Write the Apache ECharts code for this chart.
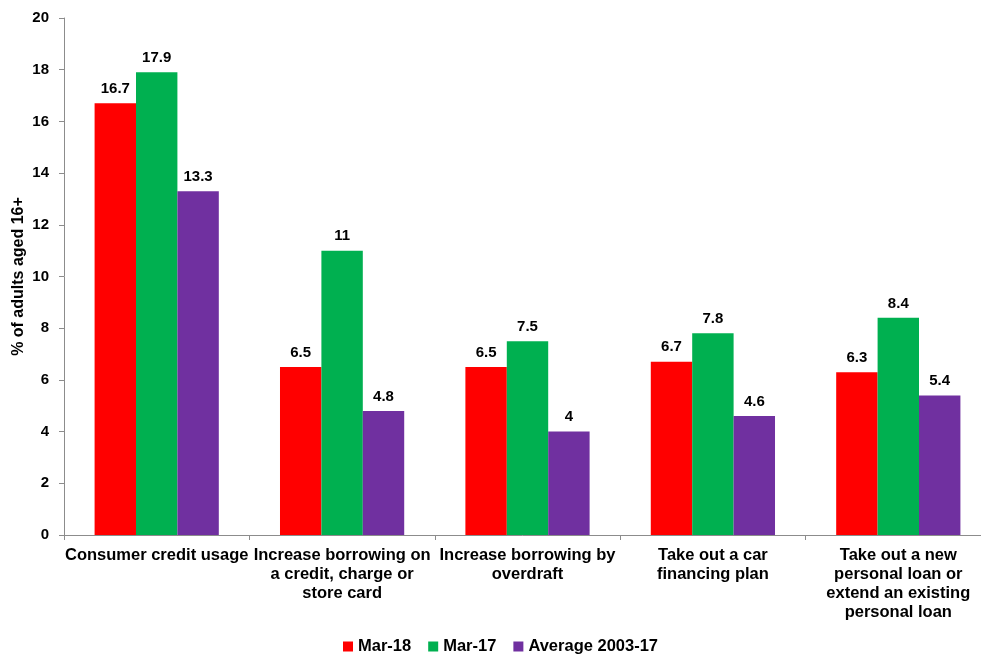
<!DOCTYPE html>
<html>
<head>
<meta charset="utf-8">
<script src="https://cdn.jsdelivr.net/npm/echarts@6/dist/echarts.min.js"></script>
<style>
  html, body { margin: 0; padding: 0; background: #fff; }
  #chart { width: 981px; height: 655px; }
</style>
</head>
<body>
<div id="chart"></div>
<script>
// Categories and values (% of adults aged 16+)
var categories = [
  'Consumer credit usage',
  'Increase borrowing on\na credit, charge or\nstore card',
  'Increase borrowing by\noverdraft',
  'Take out a car\nfinancing plan',
  'Take out a new\npersonal loan or\nextend an existing\npersonal loan'
];
var seriesNames = ['Mar-18', 'Mar-17', 'Average 2003-17'];
var mar18 = [16.7, 6.5, 6.5, 6.7, 6.3];
var mar17 = [17.9, 11, 7.5, 7.8, 8.4];
var avg0317 = [13.3, 4.8, 4, 4.6, 5.4];
var colors = ['#FF0000', '#00B050', '#7030A0'];

var font = 'Liberation Sans, Arial, sans-serif';

function barSeries(name, data, color) {
  return {
    name: name,
    type: 'bar',
    data: data,
    barGap: '0%',
    barCategoryGap: '33%',
    itemStyle: { color: color },
    label: {
      show: true,
      position: 'top',
      distance: 7,
      color: '#000',
      fontFamily: font,
      fontWeight: 'bold',
      fontSize: 15
    }
  };
}

var chart = echarts.init(document.getElementById('chart'));
chart.setOption({
  animation: false,
  color: colors,
  // plot area runs slightly past the right edge of the canvas
  grid: { left: 64, width: 927, top: 18, height: 517, outerBoundsMode: 'none', containLabel: false },
  legend: {
    top: 633,
    left: 338,
    itemWidth: 10,
    itemHeight: 10,
    itemGap: 17,
    icon: 'rect',
    textStyle: { color: '#000', fontFamily: font, fontWeight: 'bold', fontSize: 16.5 },
    data: seriesNames
  },
  xAxis: {
    type: 'category',
    data: categories,
    axisLine: { lineStyle: { color: '#8c8c8c', width: 1 } },
    axisTick: { show: true, length: 5, lineStyle: { color: '#8c8c8c' } },
    axisLabel: {
      interval: 0,
      margin: 11,
      color: '#000',
      fontFamily: font,
      fontWeight: 'bold',
      fontSize: 16.5,
      lineHeight: 19,
      align: 'center'
    }
  },
  yAxis: {
    type: 'value',
    min: 0,
    max: 20,
    interval: 2,
    name: '% of adults aged 16+',
    nameLocation: 'middle',
    nameGap: 37,
    nameMoveOverlap: false,
    nameTextStyle: { color: '#000', fontFamily: font, fontWeight: 'bold', fontSize: 16 },
    axisLine: { show: true, lineStyle: { color: '#8c8c8c', width: 1 } },
    axisTick: { show: true, length: 5, lineStyle: { color: '#8c8c8c' } },
    splitLine: { show: false },
    axisLabel: { color: '#000', fontFamily: font, fontWeight: 'bold', fontSize: 15, margin: 15 }
  },
  series: [
    barSeries(seriesNames[0], mar18, colors[0]),
    barSeries(seriesNames[1], mar17, colors[1]),
    barSeries(seriesNames[2], avg0317, colors[2])
  ]
});
</script>
</body>
</html>
